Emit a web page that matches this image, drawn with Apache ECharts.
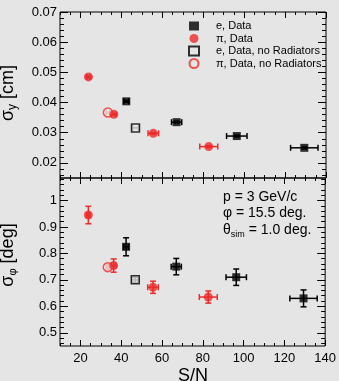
<!DOCTYPE html>
<html>
<head>
<meta charset="utf-8">
<script src="https://cdn.jsdelivr.net/npm/echarts@6/dist/echarts.min.js"></script>
<style>
  html, body { margin: 0; padding: 0; background: #e5e5e5; }
  #chart { width: 339px; height: 381px; }
</style>
</head>
<body>
<div id="chart"></div>
<script>
// ── Data ─────────────────────────────────────────────────────────────────────
const eSN = [42.4, 67.0, 96.4, 129.4]
const eSNErr = [1.2, 2.5, 5.0, 6.7]
const eSigY = [0.0404, 0.0335, 0.0289, 0.0250]
const eSigYErr = [0.0003, 0.0003, 0.0003, 0.0003]
const eSigPhi = [0.825, 0.750, 0.710, 0.630]
const eSigPhiErr = [0.034, 0.031, 0.031, 0.032]

const piSN = [23.9, 36.3, 55.6, 82.7]
const piSNErr = [0.8, 1.2, 2.6, 4.4]
const piSigY = [0.0485, 0.0361, 0.0298, 0.0254]
const piSigYErr = [0.0003, 0.0003, 0.0003, 0.0003]
const piSigPhi = [0.945, 0.754, 0.672, 0.635]
const piSigPhiErr = [0.033, 0.025, 0.023, 0.023]

const eNoRadSN = [46.9]
const eNoRadSNErr = [1.5]
const eNoRadSigY = [0.0316]
const eNoRadSigPhi = [0.700]
const eNoRadSigPhiErr = [0.010]

const piNoRadSN = [33.4]
const piNoRadSNErr = [0.8]
const piNoRadSigY = [0.0367]
const piNoRadSigPhi = [0.748]
const piNoRadSigPhiErr = [0.010]

const xLabels = [20, 40, 60, 80, 100, 120, 140]
const yTopLabels = [0.02, 0.03, 0.04, 0.05, 0.06, 0.07]
const yBotLabels = [0.5, 0.6, 0.7, 0.8, 0.9, 1.0]

const BG = '#e5e5e5'
const RED = '#ee2b2b'
const BLACK = '#000'
const FONT = '"Liberation Sans", Arial, sans-serif'

// ── Helpers ──────────────────────────────────────────────────────────────────
function steps(from, to, step) {
  const out = []
  for (let v = from; v <= to + step * 1e-6; v += step) out.push(+v.toFixed(6))
  return out
}

function pack(xs, ys, xe, ye) {
  return xs.map((x, i) => [x, ys[i], xe ? xe[i] : 0, ye ? ye[i] : 0])
}

function errorBars(name, data, color, gridIdx) {
  return {
    type: 'custom',
    name: name + ' err',
    xAxisIndex: gridIdx * 4,
    yAxisIndex: gridIdx * 4,
    z: 1,
    silent: true,
    data,
    renderItem(params, api) {
      const x = api.value(0), y = api.value(1)
      const xe = api.value(2), ye = api.value(3)
      const c = api.coord([x, y])
      const l = api.coord([x - xe, y]), r = api.coord([x + xe, y])
      const t = api.coord([x, y + ye]), b = api.coord([x, y - ye])
      const cap = 3
      const st = { stroke: color, lineWidth: 1.5 }
      const children = []
      if (xe > 0) {
        children.push({ type: 'line', shape: { x1: l[0], y1: c[1], x2: r[0], y2: c[1] }, style: st })
        children.push({ type: 'line', shape: { x1: l[0], y1: c[1] - cap, x2: l[0], y2: c[1] + cap }, style: st })
        children.push({ type: 'line', shape: { x1: r[0], y1: c[1] - cap, x2: r[0], y2: c[1] + cap }, style: st })
      }
      if (ye > 0) {
        children.push({ type: 'line', shape: { x1: c[0], y1: t[1], x2: c[0], y2: b[1] }, style: st })
        children.push({ type: 'line', shape: { x1: c[0] - cap, y1: t[1], x2: c[0] + cap, y2: t[1] }, style: st })
        children.push({ type: 'line', shape: { x1: c[0] - cap, y1: b[1], x2: c[0] + cap, y2: b[1] }, style: st })
      }
      return { type: 'group', children }
    },
  }
}

function markers(name, data, symbol, size, color, open, gridIdx, z) {
  return {
    type: 'scatter',
    name,
    xAxisIndex: gridIdx * 4,
    yAxisIndex: gridIdx * 4,
    symbol,
    symbolSize: size,
    z,
    data: data.map(d => [d[0], d[1]]),
    itemStyle: open
      ? { color: BG, borderColor: color, borderWidth: 1.5 }
      : { color, borderColor: color, borderWidth: 0 },
    emphasis: { disabled: true },
  }
}

// four x axes per grid: bottom major, bottom minor, top major, top minor
function xAxes(gridIdx, showLabels) {
  const base = {
    type: 'value', gridIndex: gridIdx, min: 10, max: 140,
    axisLine: { show: false }, splitLine: { show: false },
  }
  const major = steps(20, 140, 20)
  const minor = steps(10, 140, 5)
  return [
    {
      ...base, position: 'bottom',
      axisTick: { inside: true, length: 6, customValues: major, lineStyle: { color: BLACK } },
      axisLabel: {
        show: showLabels, customValues: xLabels, margin: 6,
        color: '#000', fontSize: 13, fontFamily: FONT,
      },
    },
    { ...base, position: 'bottom', axisTick: { inside: true, length: 3, customValues: minor, lineStyle: { color: BLACK } }, axisLabel: { show: false } },
    { ...base, position: 'top', axisTick: { inside: true, length: 6, customValues: major, lineStyle: { color: BLACK } }, axisLabel: { show: false } },
    { ...base, position: 'top', axisTick: { inside: true, length: 3, customValues: minor, lineStyle: { color: BLACK } }, axisLabel: { show: false } },
  ]
}

function yAxes(gridIdx, min, max, labels, major, minor, fmt) {
  const base = {
    type: 'value', gridIndex: gridIdx, min, max,
    axisLine: { show: false }, splitLine: { show: false },
  }
  return [
    {
      ...base, position: 'left',
      axisTick: { inside: true, length: 8, customValues: major, lineStyle: { color: BLACK } },
      axisLabel: { customValues: labels, margin: 3, color: '#000', fontSize: 13, fontFamily: FONT, formatter: fmt },
    },
    { ...base, position: 'left', axisTick: { inside: true, length: 4, customValues: minor, lineStyle: { color: BLACK } }, axisLabel: { show: false } },
    { ...base, position: 'right', axisTick: { inside: true, length: 8, customValues: major, lineStyle: { color: BLACK } }, axisLabel: { show: false } },
    { ...base, position: 'right', axisTick: { inside: true, length: 4, customValues: minor, lineStyle: { color: BLACK } }, axisLabel: { show: false } },
  ]
}

// ── Series ───────────────────────────────────────────────────────────────────
const topE = pack(eSN, eSigY, eSNErr, eSigYErr)
const topPi = pack(piSN, piSigY, piSNErr, piSigYErr)
const topENo = pack(eNoRadSN, eNoRadSigY, eNoRadSNErr, null)
const topPiNo = pack(piNoRadSN, piNoRadSigY, piNoRadSNErr, null)

const botE = pack(eSN, eSigPhi, eSNErr, eSigPhiErr)
const botPi = pack(piSN, piSigPhi, piSNErr, piSigPhiErr)
const botENo = pack(eNoRadSN, eNoRadSigPhi, eNoRadSNErr, eNoRadSigPhiErr)
const botPiNo = pack(piNoRadSN, piNoRadSigPhi, piNoRadSNErr, piNoRadSigPhiErr)

const series = [
  errorBars('eTop', topE, BLACK, 0),
  errorBars('piTop', topPi, RED, 0),
  errorBars('eNoTop', topENo, BLACK, 0),
  errorBars('piNoTop', topPiNo, RED, 0),
  markers('e, Data', topE, 'rect', 8, BLACK, false, 0, 4),
  markers('\u03c0, Data', topPi, 'circle', 9, RED, false, 0, 4),
  markers('e, Data, no Radiators', topENo, 'rect', 8, BLACK, true, 0, 3),
  markers('\u03c0, Data, no Radiators', topPiNo, 'circle', 9, RED, true, 0, 3),

  errorBars('eBot', botE, BLACK, 1),
  errorBars('piBot', botPi, RED, 1),
  errorBars('eNoBot', botENo, BLACK, 1),
  errorBars('piNoBot', botPiNo, RED, 1),
  markers('e, Data', botE, 'rect', 8, BLACK, false, 1, 4),
  markers('\u03c0, Data', botPi, 'circle', 9, RED, false, 1, 4),
  markers('e, Data, no Radiators', botENo, 'rect', 8, BLACK, true, 1, 3),
  markers('\u03c0, Data, no Radiators', botPiNo, 'circle', 9, RED, true, 1, 3),
]

const chart = echarts.init(document.getElementById('chart'))

chart.setOption({
  backgroundColor: BG,
  animation: false,
  grid: [
    { left: 60, top: 12, width: 266, height: 166, show: true, borderColor: '#000', borderWidth: 1, backgroundColor: 'transparent' },
    { left: 60, top: 178, width: 266, height: 168, show: true, borderColor: '#000', borderWidth: 1, backgroundColor: 'transparent' },
  ],
  xAxis: [...xAxes(0, false), ...xAxes(1, true)],
  yAxis: [
    ...yAxes(0, 0.015, 0.07, yTopLabels, steps(0.02, 0.07, 0.01), steps(0.016, 0.07, 0.002), v => v.toFixed(2)),
    ...yAxes(1, 0.45, 1.085, yBotLabels, steps(0.5, 1.0, 0.1), steps(0.46, 1.08, 0.02), v => (v === 1 ? '1' : v.toFixed(1))),
  ],
  legend: {
    orient: 'vertical',
    left: 188,
    top: 20,
    padding: 0,
    itemWidth: 10,
    itemHeight: 9,
    itemGap: 0.5,
    selectedMode: false,
    data: ['e, Data', '\u03c0, Data', 'e, Data, no Radiators', '\u03c0, Data, no Radiators'],
    textStyle: { fontSize: 11, lineHeight: 12, fontFamily: FONT, color: '#000', padding: [0, 0, 0, 12] },
  },
  graphic: [
    {
      type: 'text', x: 193, y: 376,
      style: { text: 'S/N', fontSize: 18, fontFamily: FONT, fill: '#000', align: 'center', verticalAlign: 'middle' },
    },
    {
      type: 'text', x: 8, y: 93, rotation: Math.PI / 2, originX: 0, originY: 0,
      style: {
        text: '{m|\u03c3}{s|y}{m| [cm]}',
        rich: {
          m: { fontSize: 18, fontFamily: FONT, fill: '#000' },
          s: { fontSize: 12, fontFamily: FONT, fill: '#000', padding: [10, 0, 0, 0] },
        },
        align: 'center', verticalAlign: 'middle',
      },
    },
    {
      type: 'text', x: 8, y: 255, rotation: Math.PI / 2, originX: 0, originY: 0,
      style: {
        text: '{m|\u03c3}{s|\u03c6}{m| [deg]}',
        rich: {
          m: { fontSize: 18, fontFamily: FONT, fill: '#000' },
          s: { fontSize: 11, fontFamily: FONT, fill: '#000', padding: [10, 0, 0, 0] },
        },
        align: 'center', verticalAlign: 'middle',
      },
    },
    {
      type: 'text', x: 223, y: 190,
      style: { text: 'p = 3 GeV/c', fontSize: 14, fontFamily: FONT, fill: '#000' },
    },
    {
      type: 'text', x: 223, y: 206,
      style: { text: '\u03c6 = 15.5 deg.', fontSize: 14, fontFamily: FONT, fill: '#000' },
    },
    {
      type: 'text', x: 223, y: 222,
      style: {
        text: '{m|\u03b8}{s|sim}{m| = 1.0 deg.}',
        rich: {
          m: { fontSize: 14, fontFamily: FONT, fill: '#000' },
          s: { fontSize: 9, fontFamily: FONT, fill: '#000', padding: [8, 0, 0, 0] },
        },
      },
    },
  ],
  series,
})
</script>
</body>
</html>
